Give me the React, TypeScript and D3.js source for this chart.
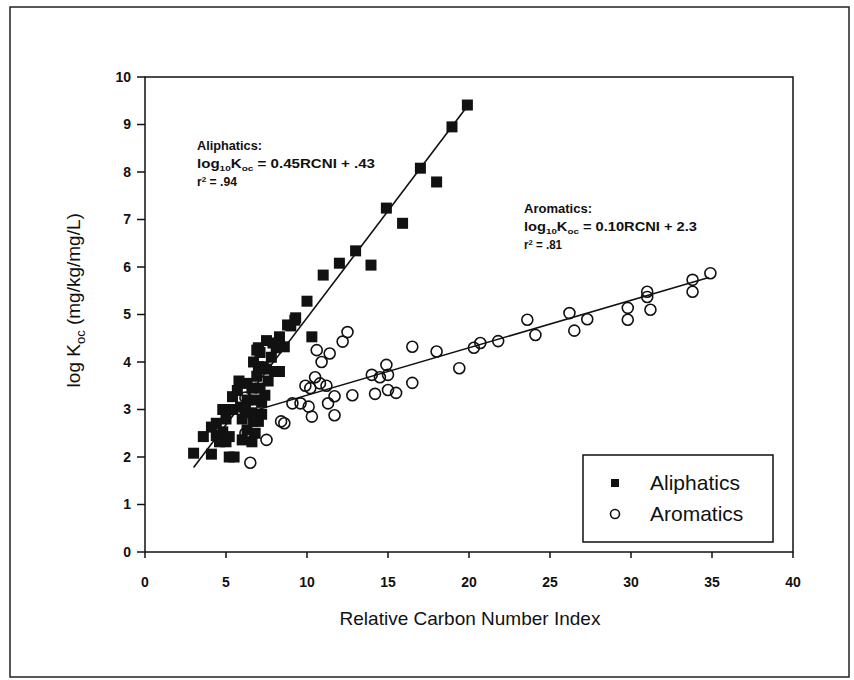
import React from 'react';
import * as d3 from 'd3';

// Relative Carbon Number Index (x) vs log Koc (y)
const aliphaticX = [3.0, 4.1, 5.2, 5.5, 3.6, 4.6, 5.0, 4.4, 4.8, 4.1, 4.8, 5.2, 6.0, 6.6, 6.3, 6.8,
  5.4, 6.6, 5.4, 5.7, 6.3, 6.9, 6.3, 6.9, 7.3, 6.9, 8.3, 7.9, 8.3, 8.8, 9.25, 10.3, 9.3, 9.0, 8.6, 7.0,
  7.6, 8.0, 7.4, 7.2, 6.2, 5.8, 7.0, 10.0, 11.0, 12.0, 13.95, 13.0, 15.9, 14.9, 18.0, 17.0, 18.95, 19.9,
  6.0, 7.0, 7.2, 6.6, 7.1, 7.5, 7.8, 8.1, 7.5, 6.7, 7.1, 5.9, 5.0, 4.4, 6.7];
const aliphaticY = [2.08, 2.06, 2.0, 2.0, 2.43, 2.32, 2.32, 2.71, 3.0, 2.63, 2.53, 2.43, 2.36, 2.32, 2.57, 2.5,
  3.0, 2.93, 3.27, 3.4, 3.2, 3.2, 3.55, 3.7, 3.9, 4.25, 3.8, 4.4, 4.53, 4.78, 4.88, 4.53, 4.93, 4.76, 4.32, 4.3,
  3.6, 3.8, 3.3, 2.9, 3.0, 3.6, 3.9, 5.28, 5.83, 6.08, 6.04, 6.34, 6.92, 7.24, 7.79, 8.08, 8.95, 9.41,
  2.8, 2.75, 3.15, 3.45, 3.45, 3.85, 4.1, 4.3, 4.45, 4.0, 4.2, 3.05, 2.8, 2.45, 2.75];

const aromaticX = [6.5, 7.5, 8.6, 8.4, 6.2, 6.2, 9.1, 9.6, 10.1, 9.9, 10.2, 10.5, 10.8, 11.2, 10.3, 11.7,
  11.3, 11.7, 12.8, 10.9, 10.6, 11.4, 12.2, 12.5, 14.0, 14.5, 15.0, 14.9, 14.2, 15.0, 15.5, 16.5, 16.5,
  18.0, 19.4, 20.3, 20.7, 21.8, 23.6, 24.1, 26.2, 26.5, 27.3, 29.8, 29.8, 31.0, 31.0, 31.2, 33.8, 33.8, 34.9];
const aromaticY = [1.88, 2.36, 2.71, 2.75, 2.5, 3.25, 3.13, 3.13, 3.06, 3.5, 3.45, 3.68, 3.55, 3.5, 2.85, 2.88,
  3.13, 3.28, 3.3, 4.0, 4.25, 4.18, 4.43, 4.63, 3.73, 3.68, 3.73, 3.94, 3.33, 3.41, 3.35, 4.32, 3.56,
  4.22, 3.87, 4.3, 4.4, 4.44, 4.89, 4.57, 5.03, 4.66, 4.9, 5.14, 4.89, 5.48, 5.37, 5.1, 5.73, 5.48, 5.87];

// regression lines: slope, intercept, x-range
const aliphaticFit = { slope: 0.45, intercept: 0.43, from: 3, to: 20 };
const aromaticFit = { slope: 0.1, intercept: 2.3, from: 6.5, to: 34.8 };

const xTicks = [0, 5, 10, 15, 20, 25, 30, 35, 40];
const yTicks = [0, 1, 2, 3, 4, 5, 6, 7, 8, 9, 10];

const font = '"Liberation Sans", Arial, sans-serif';

export default function App() {
  const x = d3.scaleLinear().domain([0, 40]).range([145, 793]);
  const y = d3.scaleLinear().domain([0, 10]).range([552, 77]);

  const fitPath = (f: typeof aliphaticFit) =>
    d3.line<number>().x((d) => x(d)).y((d) => y(f.slope * d + f.intercept))([f.from, f.to]) || '';

  return (
    <svg width={854} height={680} style={{ position: 'absolute', left: 0, top: 0, background: '#fff' }}>
      <rect x={0} y={0} width={854} height={680} fill="#fff" />
      {/* outer frame */}
      <rect x={10} y={7} width={839} height={670} fill="none" stroke="#222" strokeWidth={1.5} />
      {/* plot box */}
      <rect x={x(0)} y={y(10)} width={x(40) - x(0)} height={y(0) - y(10)} fill="none" stroke="#111" strokeWidth={1.5} />

      {/* y ticks */}
      {yTicks.map((t) => (
        <g key={'y' + t}>
          <line x1={x(0) - 8} x2={x(0)} y1={y(t)} y2={y(t)} stroke="#111" strokeWidth={1.5} />
          <text x={x(0) - 14} y={y(t)} dy="0.35em" textAnchor="end" fontFamily={font} fontSize={14} fontWeight="bold" fill="#111">{t}</text>
        </g>
      ))}
      {/* x ticks */}
      {xTicks.map((t) => (
        <g key={'x' + t}>
          <line x1={x(t)} x2={x(t)} y1={y(0)} y2={y(0) + 6} stroke="#111" strokeWidth={1.5} />
          <text x={x(t)} y={y(0) + 35} textAnchor="middle" fontFamily={font} fontSize={14} fontWeight="bold" fill="#111">{t}</text>
        </g>
      ))}

      <text x={470} y={625} textAnchor="middle" fontFamily={font} fontSize={19} fill="#111">Relative Carbon Number Index</text>
      <text transform={`translate(80,${y(5.3)}) rotate(-90)`} textAnchor="middle" fontFamily={font} fontSize={19} fill="#111">
        log K<tspan fontSize={13} dy={5}>oc</tspan><tspan dy={-5}> (mg/kg/mg/L)</tspan>
      </text>

      {/* aliphatics */}
      {aliphaticX.map((v, i) => (
        <rect key={'a' + i} x={x(v) - 5.5} y={y(aliphaticY[i]) - 5.5} width={11} height={11} fill="#111" />
      ))}
      {/* aromatics */}
      {aromaticX.map((v, i) => (
        <circle key={'r' + i} cx={x(v)} cy={y(aromaticY[i])} r={5.5} fill="none" stroke="#111" strokeWidth={1.6} />
      ))}

      {/* fit lines */}
      <path d={fitPath(aliphaticFit)} stroke="#111" strokeWidth={1.6} fill="none" />
      <path d={fitPath(aromaticFit)} stroke="#111" strokeWidth={1.6} fill="none" />

      {/* annotations */}
      <g fontFamily={font} fontSize={12} fontWeight="bold" fill="#111">
        <text x={197} y={150} textLength={65} lengthAdjust="spacingAndGlyphs">Aliphatics:</text>
        <text x={197} y={168} textLength={178} lengthAdjust="spacingAndGlyphs">log<tspan fontSize={8} dy={3}>10</tspan><tspan dy={-3}>K</tspan><tspan fontSize={8} dy={3}>oc</tspan><tspan dy={-3}> = 0.45RCNI + .43</tspan></text>
        <text x={197} y={186} textLength={40} lengthAdjust="spacingAndGlyphs">r<tspan fontSize={8} dy={-4}>2</tspan><tspan dy={4}> = .94</tspan></text>
        <text x={524} y={213} textLength={68} lengthAdjust="spacingAndGlyphs">Aromatics:</text>
        <text x={524} y={231} textLength={173} lengthAdjust="spacingAndGlyphs">log<tspan fontSize={8} dy={3}>10</tspan><tspan dy={-3}>K</tspan><tspan fontSize={8} dy={3}>oc</tspan><tspan dy={-3}> = 0.10RCNI + 2.3</tspan></text>
        <text x={524} y={249} textLength={38} lengthAdjust="spacingAndGlyphs">r<tspan fontSize={8} dy={-4}>2</tspan><tspan dy={4}> = .81</tspan></text>
      </g>

      {/* legend */}
      <rect x={583} y={455} width={190} height={87} fill="#fff" stroke="#111" strokeWidth={1.5} />
      <rect x={611} y={479} width={8} height={8} fill="#111" />
      <circle cx={615} cy={514} r={4.5} fill="none" stroke="#111" strokeWidth={1.6} />
      <text x={650} y={483} dy="0.35em" fontFamily={font} fontSize={21} fill="#111">Aliphatics</text>
      <text x={650} y={514} dy="0.35em" fontFamily={font} fontSize={21} fill="#111">Aromatics</text>
    </svg>
  );
}
